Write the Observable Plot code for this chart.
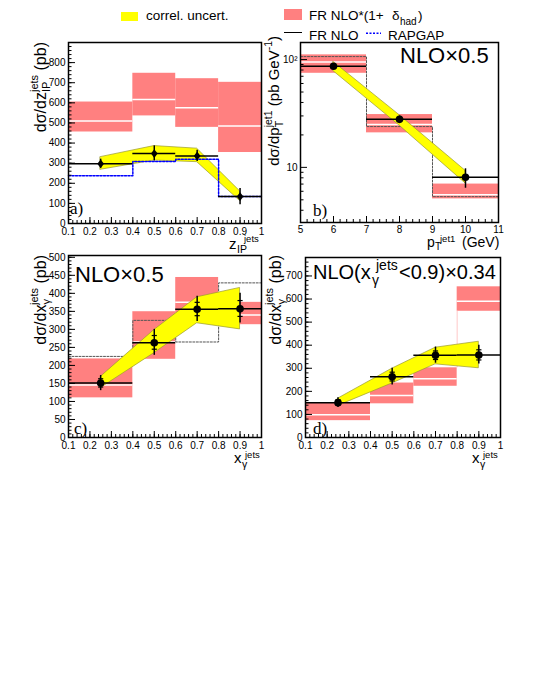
<!DOCTYPE html>
<html><head><meta charset="utf-8">
<script src="https://cdn.jsdelivr.net/npm/d3@7"></script>
<script src="https://cdn.jsdelivr.net/npm/@observablehq/plot@0.6"></script>
<style>
body{margin:0;background:#fff;}
#fig{position:relative;width:540px;height:699px;overflow:hidden;background:#fff;font-family:"Liberation Sans",Arial,sans-serif;}
#fig svg{position:absolute;overflow:visible;}
</style></head><body><div id="fig"></div>
<script>
// ---------- Panel a: dσ/dz_IP^jets ----------
const zBinLo = [0.1, 0.4, 0.6, 0.8];
const zBinHi = [0.4, 0.6, 0.8, 1.0];
const zCenter = [0.25, 0.5, 0.7, 0.9];
const zData = [297, 348, 336, 134];
const zErrLo = [275, 311, 308, 93];
const zErrHi = [320, 386, 364, 174];
const zBandLo = [267, 313, 305, 112];
const zBandHi = [330, 385, 372, 160];
const zNloLo = [455, 535, 478, 353];
const zNloHi = [604, 747, 720, 702];
const zNloMid = [510, 616, 576, 485];
const zRapgap = [237, 308, 320, 134];

// ---------- Panel b: dσ/dp_T^jet1 ----------
const ptBinLo = [5, 7, 9];
const ptBinHi = [7, 9, 11];
const ptCenter = [6, 8, 10];
const ptData = [86.7, 27.9, 8.1];
const ptErrLo = [82, 25.8, 6.4];
const ptErrHi = [91, 30.0, 9.7];
const ptBandLo = [78, 24.4, 7.1];
const ptBandHi = [95, 30.5, 9.3];
const ptNloLo = [74.6, 20.9, 5.1];
const ptNloHi = [110.6, 30.9, 7.0];
const ptNloMid = [95, 25, 5.58];
const ptDashed = [106.6, 23.9, 5.35];

// ---------- Panels c, d: dσ/dx_γ^jets ----------
const xgBinLo = [0.1, 0.4, 0.6, 0.8];
const xgBinHi = [0.4, 0.6, 0.8, 1.0];
const xgCenter = [0.25, 0.5, 0.7, 0.9];
const xgData = [151, 263, 356, 357];
const xgErrLo = [130, 228, 322, 318];
const xgErrHi = [172, 300, 392, 400];
const xgStatLo = [140, 245, 338, 336];
const xgStatHi = [163, 283, 375, 380];
const xgBandLo = [137, 234, 317, 300];
const xgBandHi = [168, 298, 389, 415];
const cNloLo = [110, 217, 321, 313];
const cNloHi = [218, 349, 444, 375];
const cNloMid = [146, 265, 375, 340];
const cDashed = [225, 325, 265, 429];
const dNloLo = [73, 146, 222, 547];
const dNloHi = [150, 236, 302, 653];
const dNloMid = [99, 182, 255, 590];

// ---------- helpers ----------
const RED = "#ff8080";
const fig = document.getElementById("fig");
const seq = (a, b, s) => d3.range(Math.round((b - a) / s) + 1).map(i => +(a + i * s).toFixed(6));
const steps = (lo, hi, v) => lo.flatMap((l, i) => [{x: l, y: v[i]}, {x: hi[i], y: v[i]}]);
const fmt1 = d => d === 1 ? "1" : d.toFixed(1);
const tallDiamond = {draw(ctx, size) { const s = Math.sqrt(size); const h = 0.55 * s, w = 0.42 * s;
  ctx.moveTo(0, -h); ctx.lineTo(w, 0); ctx.lineTo(0, h); ctx.lineTo(-w, 0); ctx.closePath(); }};

function table(center, lo, hi, cols) {
  return center.map((c, i) => { const o = {c, lo: lo[i], hi: hi[i]}; for (const k in cols) o[k] = cols[k][i]; return o; });
}

function panel(g, marks) {
  const fh = g.height - g.mT - g.mB, fw = g.width - g.mL - g.mR;
  const tx = (vals, len) => Plot.tickX(vals, {x: d => d, insetTop: fh - len, stroke: "black", strokeWidth: 1});
  const ty = (vals, len) => Plot.tickY(vals, {y: d => d, insetRight: fw - len, stroke: "black", strokeWidth: 1});
  const p = Plot.plot({
    width: g.width, height: g.height,
    marginLeft: g.mL, marginRight: g.mR, marginTop: g.mT, marginBottom: g.mB,
    x: {domain: g.xd}, y: {domain: g.yd, type: g.ylog ? "log" : "linear"},
    style: {fontFamily: "Liberation Sans, Arial, sans-serif", fontSize: "10px", color: "black", background: "transparent", overflow: "visible"},
    marks: [
      ...marks,
      tx(g.xMinor, 3), tx(g.xMajor, 6), ty(g.yMinor, 3.5), ty(g.yMajor, 7),
      Plot.axisX({ticks: g.xMajor, tickSize: 0, tickPadding: g.xpad ?? 4.5, tickFormat: g.xf, fontSize: 10}),
      Plot.axisY({ticks: g.yMajor, tickSize: 0, tickPadding: 3, tickFormat: g.yf, fontSize: 10}),
      Plot.frame({stroke: "black", strokeWidth: 1.5})
    ]
  });
  p.style.left = g.left + "px"; p.style.top = g.top + "px";
  fig.appendChild(p);
}

function dataMarks(T, sym, r, stat) {
  const m = [
    Plot.ruleY(T, {x1: "lo", x2: "hi", y: "v", stroke: "black", strokeWidth: 1.5}),
    Plot.ruleX(T, {x: "c", y1: "eLo", y2: "eHi", stroke: "black", strokeWidth: 1.5})
  ];
  if (stat) {
    m.push(Plot.link(T, {x1: d => d.c - 0.012, x2: d => d.c + 0.012, y1: "sLo", y2: "sLo", stroke: "black", strokeWidth: 1.2}));
    m.push(Plot.link(T, {x1: d => d.c - 0.012, x2: d => d.c + 0.012, y1: "sHi", y2: "sHi", stroke: "black", strokeWidth: 1.2}));
  }
  m.push(Plot.dot(T, {x: "c", y: "v", r, symbol: sym, fill: "black", stroke: null}));
  return m;
}

// ---------- Panel a ----------
const A = table(zCenter, zBinLo, zBinHi, {v: zData, eLo: zErrLo, eHi: zErrHi, bLo: zBandLo, bHi: zBandHi, nLo: zNloLo, nHi: zNloHi, nMid: zNloMid});
panel({left: 0, top: 0, width: 270, height: 240, mL: 68, mR: 9, mT: 42, mB: 17,
  xd: [0.1, 1], yd: [0, 900], xMajor: seq(0.1, 1, 0.1), xMinor: seq(0.1, 1, 0.02),
  yMajor: seq(0, 800, 100), yMinor: seq(0, 900, 20), xf: fmt1, yf: d => String(d)}, [
  Plot.rect(A, {x1: "lo", x2: "hi", y1: "nLo", y2: "nHi", fill: RED}),
  Plot.ruleY(A, {x1: "lo", x2: "hi", y: "nMid", stroke: "white", strokeWidth: 1.5}),
  Plot.areaY(A, {x: "c", y1: "bLo", y2: "bHi", fill: "yellow", stroke: "#9a9a30", strokeWidth: 0.7}),
  Plot.line(steps(zBinLo, zBinHi, zRapgap), {x: "x", y: "y", stroke: "blue", strokeWidth: 1.5, strokeDasharray: "2,1.5"}),
  ...dataMarks(A, tallDiamond, 4.5, false)
]);

// ---------- Panel b ----------
const B = table(ptCenter, ptBinLo, ptBinHi, {v: ptData, eLo: ptErrLo, eHi: ptErrHi, bLo: ptBandLo, bHi: ptBandHi, nLo: ptNloLo, nHi: ptNloHi, nMid: ptNloMid});
panel({left: 270, top: 0, width: 270, height: 240, mL: 30, mR: 42, mT: 42, mB: 18, xpad: 3.5,
  xd: [5, 11], yd: [3.08, 144], ylog: true, xMajor: seq(5, 11, 1), xMinor: seq(5, 11, 0.2),
  yMajor: [10, 100], yMinor: [4, 5, 6, 7, 8, 9, 20, 30, 40, 50, 60, 70, 80, 90],
  xf: d => String(d), yf: d => d === 100 ? "10²" : "10"}, [
  Plot.rect(B, {x1: "lo", x2: "hi", y1: "nLo", y2: "nHi", fill: RED}),
  Plot.ruleY(B, {x1: "lo", x2: "hi", y: "nMid", stroke: "white", strokeWidth: 1.5}),
  Plot.line(steps(ptBinLo, ptBinHi, ptDashed), {x: "x", y: "y", stroke: "#555", strokeWidth: 1, strokeDasharray: "2,1.5"}),
  Plot.areaY(B, {x: "c", y1: "bLo", y2: "bHi", fill: "yellow", stroke: "#9a9a30", strokeWidth: 0.7}),
  ...dataMarks(B, "circle", 3.8, false)
]);

// ---------- Panel c ----------
const C = table(xgCenter, xgBinLo, xgBinHi, {v: xgData, eLo: xgErrLo, eHi: xgErrHi, sLo: xgStatLo, sHi: xgStatHi, bLo: xgBandLo, bHi: xgBandHi, nLo: cNloLo, nHi: cNloHi, nMid: cNloMid});
panel({left: 0, top: 240, width: 270, height: 240, mL: 68, mR: 9, mT: 15, mB: 43,
  xd: [0.1, 1], yd: [0, 505], xMajor: seq(0.1, 1, 0.1), xMinor: seq(0.1, 1, 0.02),
  yMajor: seq(0, 500, 50), yMinor: seq(0, 500, 10), xf: fmt1, yf: d => String(d)}, [
  Plot.rect(C, {x1: "lo", x2: "hi", y1: "nLo", y2: "nHi", fill: RED}),
  Plot.ruleY(C, {x1: "lo", x2: "hi", y: "nMid", stroke: "white", strokeWidth: 1.5}),
  Plot.line(steps(xgBinLo, xgBinHi, cDashed), {x: "x", y: "y", stroke: "#555", strokeWidth: 1, strokeDasharray: "2,1.5"}),
  Plot.areaY(C, {x: "c", y1: "bLo", y2: "bHi", fill: "yellow", stroke: "#9a9a30", strokeWidth: 0.7}),
  ...dataMarks(C, "circle", 3.8, true)
]);

// ---------- Panel d ----------
const D = table(xgCenter, xgBinLo, xgBinHi, {v: xgData, eLo: xgErrLo, eHi: xgErrHi, sLo: xgStatLo, sHi: xgStatHi, bLo: xgBandLo, bHi: xgBandHi, nLo: dNloLo, nHi: dNloHi, nMid: dNloMid});
panel({left: 270, top: 240, width: 270, height: 240, mL: 35, mR: 40, mT: 17, mB: 43,
  xd: [0.1, 1], yd: [0, 780], xMajor: seq(0.1, 1, 0.1), xMinor: seq(0.1, 1, 0.02),
  yMajor: seq(0, 700, 100), yMinor: seq(0, 780, 20), xf: fmt1, yf: d => String(d)}, [
  Plot.rect(D, {x1: "lo", x2: "hi", y1: "nLo", y2: "nHi", fill: RED}),
  Plot.ruleY(D, {x1: "lo", x2: "hi", y: "nMid", stroke: "white", strokeWidth: 1.5}),
  Plot.ruleX([xgBinLo[3]], {x: d => d, y1: dNloHi[2], y2: dNloLo[3], stroke: "#ffc8c8", strokeWidth: 1}),
  Plot.areaY(D, {x: "c", y1: "bLo", y2: "bHi", fill: "yellow", stroke: "#9a9a30", strokeWidth: 0.7}),
  ...dataMarks(D, "circle", 3.8, true)
]);

// ---------- text overlay ----------
const SERIF = "Liberation Serif, Times New Roman, serif";
fig.insertAdjacentHTML("beforeend", `
<svg width="540" height="699" style="left:0;top:0;pointer-events:none" font-family="Liberation Sans, Arial, sans-serif" fill="black">
  <rect x="121" y="12" width="17" height="9" fill="yellow"/>
  <text x="146" y="19.5" font-size="13.5">correl. uncert.</text>
  <rect x="284" y="9" width="18" height="11" fill="${RED}"/>
  <text x="309" y="19.5" font-size="13.5">FR NLO*(1+</text>
  <text x="392" y="19.5" font-size="13.5">δ</text>
  <text x="400" y="24.5" font-size="10">had</text>
  <text x="418" y="19.5" font-size="13.5">)</text>
  <line x1="284" x2="302" y1="32.5" y2="32.5" stroke="black" stroke-width="1"/>
  <text x="309" y="39.5" font-size="13.5">FR NLO</text>
  <line x1="366" x2="381" y1="33.3" y2="33.3" stroke="blue" stroke-width="1.5" stroke-dasharray="2,1.5"/>
  <text x="388" y="39.5" font-size="13.5">RAPGAP</text>

  <g transform="translate(46,42) rotate(-90)"><text text-anchor="end" font-size="16">dσ/dz<tspan font-size="11" dy="4">IP</tspan><tspan font-size="11" dx="-10.4" dy="-12">jets</tspan><tspan dy="8"> (pb)</tspan></text></g>
  <g transform="translate(279,36) rotate(-90)"><text text-anchor="end" font-size="15">dσ/dp<tspan font-size="10.5" dy="4">T</tspan><tspan font-size="10.5" dx="-6.4" dy="-11.5">jet1</tspan><tspan dy="7.5"> (pb GeV</tspan><tspan font-size="10.5" dy="-7">-1</tspan><tspan dy="7">)</tspan></text></g>
  <g transform="translate(46,255) rotate(-90)"><text text-anchor="end" font-size="16">dσ/dx<tspan font-size="11" dy="4">γ</tspan><tspan font-size="11" dx="-6" dy="-12">jets</tspan><tspan dy="8"> (pb)</tspan></text></g>
  <g transform="translate(281,255) rotate(-90)"><text text-anchor="end" font-size="16">dσ/dx<tspan font-size="11" dy="4">γ</tspan><tspan font-size="11" dx="-6" dy="-12">jets</tspan><tspan dy="8"> (pb)</tspan></text></g>

  <text x="229" y="248.5" font-size="15">z</text>
  <text x="237" y="252.5" font-size="10.5">IP</text>
  <text x="244" y="241.5" font-size="9.5">jets</text>

  <text x="427" y="246.5" font-size="14">p</text>
  <text x="435" y="250" font-size="10">T</text>
  <text x="440" y="242" font-size="9.5">jet1</text>
  <text x="462" y="246.5" font-size="14">(GeV)</text>

  <text x="234" y="463" font-size="15">x</text>
  <text x="242" y="467.5" font-size="10.5">γ</text>
  <text x="245" y="457.5" font-size="9.5">jets</text>

  <text x="472" y="463" font-size="15">x</text>
  <text x="480" y="467.5" font-size="10.5">γ</text>
  <text x="483" y="457.5" font-size="9.5">jets</text>

  <text x="70" y="214" font-size="17" font-family="${SERIF}">a)</text>
  <text x="313" y="216" font-size="17" font-family="${SERIF}">b)</text>
  <text x="74" y="434" font-size="17" font-family="${SERIF}">c)</text>
  <text x="313" y="434" font-size="17" font-family="${SERIF}">d)</text>

  <text x="400" y="63" font-size="22">NLO×0.5</text>
  <text x="75" y="282" font-size="22">NLO×0.5</text>
  <text x="313" y="279" font-size="20">NLO(x</text>
  <text x="372" y="285" font-size="14">γ</text>
  <text x="376" y="270" font-size="14">jets</text>
  <text x="399" y="279" font-size="20">&lt;0.9)×0.34</text>
</svg>`);
</script></body></html>
